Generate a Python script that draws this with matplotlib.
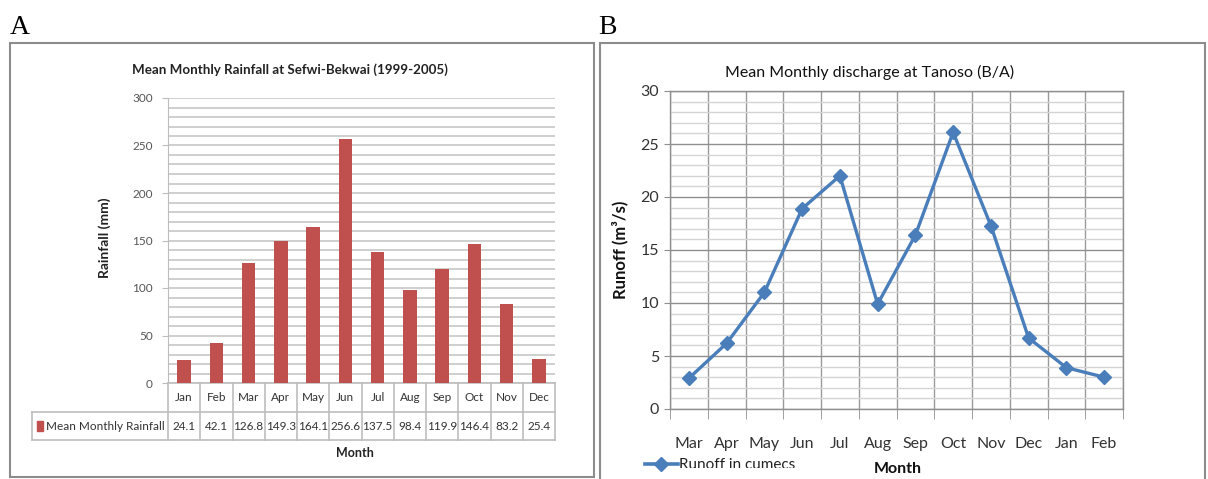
import matplotlib
matplotlib.use("Agg")
import matplotlib.pyplot as plt
from matplotlib.patches import Rectangle
from matplotlib.lines import Line2D
import matplotlib.transforms as mtransforms

# ---- data ----
rain_months = ["Jan", "Feb", "Mar", "Apr", "May", "Jun", "Jul", "Aug", "Sep", "Oct", "Nov", "Dec"]
rainfall_mm = [24.1, 42.1, 126.8, 149.3, 164.1, 256.6, 137.5, 98.4, 119.9, 146.4, 83.2, 25.4]
rain_yticks = [0, 50, 100, 150, 200, 250, 300]

flow_months = ["Mar", "Apr", "May", "Jun", "Jul", "Aug", "Sep", "Oct", "Nov", "Dec", "Jan", "Feb"]
runoff_cumecs = [2.9, 6.2, 11.0, 18.9, 22.0, 9.9, 16.4, 26.1, 17.3, 6.7, 3.9, 3.0]
flow_yticks = [0, 5, 10, 15, 20, 25, 30]

W, H = 1208, 479
plt.rcParams["font.family"] = ["Lato", "DejaVu Sans"]

fig = plt.figure(figsize=(W / 100, H / 100), dpi=100)


def box(x0, y0, x1, y1):
    """Axes rectangle given pixel edges measured from the top-left corner."""
    return [x0 / W, 1 - y1 / H, (x1 - x0) / W, (y1 - y0) / H]


# ---- panel frames and letters ----
fig.patches.append(Rectangle((10 / W, 1 - 477 / H), 584 / W, 434 / H, transform=fig.transFigure,
                             fill=False, edgecolor="#8c8c8c", lw=1.5))
fig.patches.append(Rectangle((600 / W, -0.05), 605 / W, 1 - 43 / H + 0.05, transform=fig.transFigure,
                             fill=False, edgecolor="#8c8c8c", lw=1.5))
fig.text(10 / W, 1 - 28 / H, "A", family="Liberation Serif", fontsize=20, va="center", ha="left")
fig.text(598 / W, 1 - 28 / H, "B", family="Liberation Serif", fontsize=20, va="center", ha="left")

# ---- A: rainfall bars with data table ----
grid_a = "#cfcfcf"
table_c = "#bdbdbd"
bar_c = "#c0504d"
axA = fig.add_axes(box(168, 98, 555, 383))
xa = list(range(len(rain_months)))
axA.bar(xa, rainfall_mm, width=0.42, color=bar_c, zorder=3)
axA.set_xlim(-0.5, 11.5)
axA.set_ylim(0, 300)
axA.set_yticks(rain_yticks)
axA.set_yticks(range(0, 301, 10), minor=True)
axA.grid(axis="y", which="both", color=grid_a, lw=1.4, zorder=0)
axA.set_xticks([])
for name, s in axA.spines.items():
    s.set_visible(name == "left")
axA.spines["left"].set_color(table_c)
axA.tick_params(axis="y", which="major", length=4, color=table_c, labelsize=8.5,
                labelcolor="#555555", pad=7)
axA.tick_params(axis="y", which="minor", length=0)
fig.text(290 / W, 1 - 70 / H, "Mean Monthly Rainfall at Sefwi-Bekwai (1999-2005)", ha="center",
         va="center", fontsize=9.6, fontweight="bold", color="#222222")

trA = mtransforms.blended_transform_factory(axA.transData, axA.transAxes)
r1, r2 = -29 / 285, -57 / 285
left_cell = -0.5 - 136 / 32.25
lines = [
    ([-0.5, 11.5], [0, 0]),
    ([left_cell, 11.5], [r1, r1]),
    ([left_cell, 11.5], [r2, r2]),
    ([left_cell, left_cell], [r1, r2]),
]
for k in range(13):
    lines.append(([k - 0.5, k - 0.5], [0, r2]))
for xs, ys in lines:
    axA.add_line(Line2D(xs, ys, transform=trA, color=table_c, lw=1.2, clip_on=False))
for i, (m, v) in enumerate(zip(rain_months, rainfall_mm)):
    axA.text(i, r1 / 2, m, transform=trA, ha="center", va="center", fontsize=8.5, color="#333333")
    axA.text(i, (r1 + r2) / 2, f"{v:.1f}", transform=trA, ha="center", va="center", fontsize=8.5,
             color="#333333")
axA.add_patch(Rectangle((left_cell + 0.16, (r1 + r2) / 2 - 0.016), 0.18, 0.034, transform=trA,
                        color=bar_c, clip_on=False))
axA.text(left_cell + 0.42, (r1 + r2) / 2, "Mean Monthly Rainfall", transform=trA, ha="left",
         va="center", fontsize=8.5, color="#333333")
fig.text(355 / W, 1 - 453 / H, "Month", ha="center", va="center", fontsize=9, fontweight="bold",
         color="#222222")
fig.text(105 / W, 1 - 238 / H, "Rainfall (mm)", ha="center", va="center", rotation=90, fontsize=10,
         fontweight="bold", color="#222222")

# ---- B: runoff line ----
line_c = "#4a7ebb"
axB = fig.add_axes(box(670, 91, 1123, 409))
xb = list(range(len(flow_months)))
axB.set_xlim(-0.5, 11.5)
axB.set_ylim(0, 30)
axB.set_yticks(flow_yticks)
axB.set_yticks(range(0, 31), minor=True)
axB.grid(axis="y", which="minor", color="#d4d4d4", lw=1.0, zorder=0)
axB.grid(axis="y", which="major", color="#8f8f8f", lw=1.0, zorder=1)
axB.set_xticks(xb)
axB.set_xticklabels(flow_months)
axB.set_xticks([k - 0.5 for k in range(13)], minor=True)
axB.grid(axis="x", which="minor", color="#9a9a9a", lw=1.0, zorder=1)
axB.tick_params(axis="x", which="major", length=0, labelsize=11.5, pad=20, labelcolor="#333333")
axB.tick_params(axis="x", which="minor", length=7, color="#8f8f8f", direction="out")
axB.tick_params(axis="y", which="major", length=4, color="#8f8f8f", labelsize=11.5, pad=4,
                labelcolor="#333333")
axB.tick_params(axis="y", which="minor", length=0)
for name, s in axB.spines.items():
    s.set_color("#8f8f8f")
    s.set_linewidth(1.0)
axB.plot(xb, runoff_cumecs, color=line_c, lw=2.4, marker="D", markersize=7, zorder=4)
fig.text(870 / W, 1 - 72 / H, "Mean Monthly discharge at Tanoso (B/A)", ha="center", va="center",
         fontsize=11.5, color="#111111")
fig.text(620 / W, 1 - 250 / H, "Runoff (m\u00b3/s)", ha="center", va="center", rotation=90,
         fontsize=12, fontweight="bold", color="#111111")
fig.text(898 / W, 1 - 469 / H, "Month", ha="center", va="center", fontsize=11.5, fontweight="bold",
         color="#111111")

# legend entry, cut off at its lower edge
axL = fig.add_axes(box(640, 452, 820, 468))
axL.set_xlim(0, 180)
axL.set_ylim(16, 0)
axL.axis("off")
axL.plot([5, 38], [12, 12], color=line_c, lw=2.6, clip_on=False)
axL.plot([21], [12], color=line_c, marker="D", markersize=7, clip_on=False)
axL.text(39, 13, "Runoff in cumecs", ha="left", va="center", fontsize=11, color="#222222",
         clip_on=True)

fig.savefig("out.png", dpi=100)
